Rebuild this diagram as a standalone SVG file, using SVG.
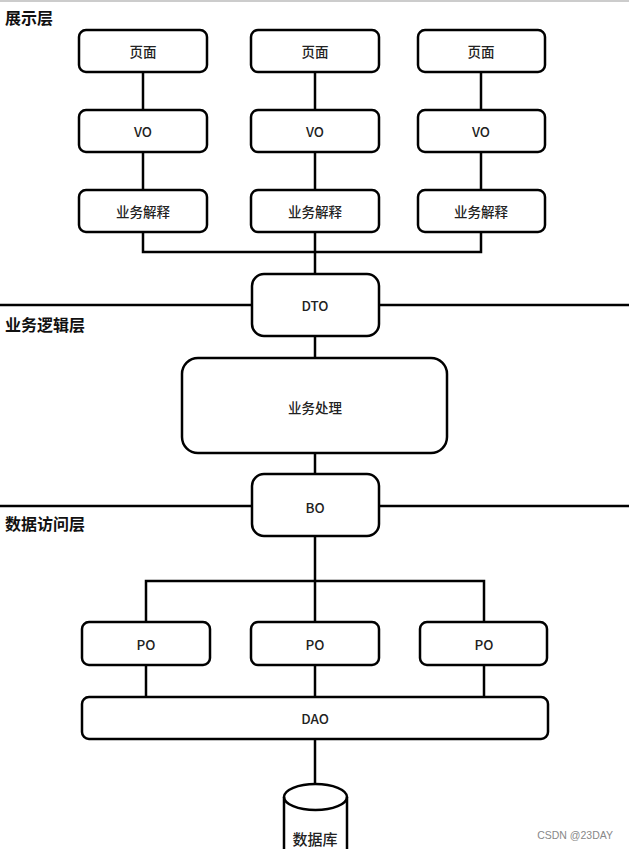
<svg xmlns="http://www.w3.org/2000/svg" width="629" height="849" viewBox="0 0 629 849">
<style>
.box{fill:#fff;stroke:#000;stroke-width:2.5}
.ln{fill:none;stroke:#000;stroke-width:2.5}
.sep{fill:none;stroke:#000;stroke-width:2.5}
.t{font-family:"Noto Sans CJK SC","Liberation Sans",sans-serif;font-size:13.5px;font-weight:500;text-anchor:middle;dominant-baseline:central;fill:#222}
.lay{font-family:"Noto Sans CJK SC","Liberation Sans",sans-serif;font-size:16px;font-weight:bold;fill:#111}
</style>
<rect width="629" height="849" fill="#fff"/>
<line x1="0" y1="1" x2="629" y2="1" stroke="#bbb" stroke-width="1.5"/>
<g id="separators">
<line class="sep" x1="0" y1="305" x2="629" y2="305"/>
<line class="sep" x1="0" y1="506" x2="629" y2="506"/>
</g>
<g id="layer-labels">
<text class="lay" x="5" y="24">展示层</text>
<text class="lay" x="5" y="331">业务逻辑层</text>
<text class="lay" x="5" y="530">数据访问层</text>
</g>
<g id="connectors">
<line class="ln" x1="143" y1="72" x2="143" y2="110"/>
<line class="ln" x1="315" y1="72" x2="315" y2="110"/>
<line class="ln" x1="481" y1="72" x2="481" y2="110"/>
<line class="ln" x1="143" y1="152" x2="143" y2="190"/>
<line class="ln" x1="315" y1="152" x2="315" y2="190"/>
<line class="ln" x1="481" y1="152" x2="481" y2="190"/>
<polyline class="ln" points="143,232 143,252 481,252 481,232"/>
<line class="ln" x1="315" y1="232" x2="315" y2="274"/>
<line class="ln" x1="315" y1="336" x2="315" y2="358"/>
<line class="ln" x1="315" y1="453" x2="315" y2="474"/>
<line class="ln" x1="315" y1="536" x2="315" y2="622"/>
<polyline class="ln" points="146,622 146,581 484,581 484,622"/>
<line class="ln" x1="146" y1="665" x2="146" y2="697"/>
<line class="ln" x1="315" y1="665" x2="315" y2="697"/>
<line class="ln" x1="484" y1="665" x2="484" y2="697"/>
<line class="ln" x1="315" y1="739" x2="315" y2="784"/>
</g>
<g id="page1"><rect class="box" x="79" y="30" width="128" height="42" rx="7"/><text class="t" x="143" y="51">页面</text></g>
<g id="page2"><rect class="box" x="251" y="30" width="128" height="42" rx="7"/><text class="t" x="315" y="51">页面</text></g>
<g id="page3"><rect class="box" x="418" y="30" width="127" height="42" rx="7"/><text class="t" x="481" y="51">页面</text></g>
<g id="vo1"><rect class="box" x="79" y="110" width="128" height="42" rx="7"/><text class="t" x="143" y="131">VO</text></g>
<g id="vo2"><rect class="box" x="251" y="110" width="128" height="42" rx="7"/><text class="t" x="315" y="131">VO</text></g>
<g id="vo3"><rect class="box" x="418" y="110" width="127" height="42" rx="7"/><text class="t" x="481" y="131">VO</text></g>
<g id="biz1"><rect class="box" x="79" y="190" width="128" height="42" rx="7"/><text class="t" x="143" y="211">业务解释</text></g>
<g id="biz2"><rect class="box" x="251" y="190" width="128" height="42" rx="7"/><text class="t" x="315" y="211">业务解释</text></g>
<g id="biz3"><rect class="box" x="418" y="190" width="127" height="42" rx="7"/><text class="t" x="481" y="211">业务解释</text></g>
<g id="dto"><rect class="box" x="252" y="274" width="127" height="62" rx="12"/><text class="t" x="315" y="305">DTO</text></g>
<g id="process"><rect class="box" x="182" y="358" width="265" height="95" rx="16"/><text class="t" x="315" y="407">业务处理</text></g>
<g id="bo"><rect class="box" x="252" y="474" width="127" height="62" rx="12"/><text class="t" x="315" y="507">BO</text></g>
<g id="po1"><rect class="box" x="82" y="622" width="128" height="43" rx="7"/><text class="t" x="146" y="644">PO</text></g>
<g id="po2"><rect class="box" x="251" y="622" width="128" height="43" rx="7"/><text class="t" x="315" y="644">PO</text></g>
<g id="po3"><rect class="box" x="420" y="622" width="127" height="43" rx="7"/><text class="t" x="484" y="644">PO</text></g>
<g id="dao"><rect class="box" x="82" y="697" width="466" height="42" rx="7"/><text class="t" x="315" y="718">DAO</text></g>
<g id="db">
<path class="box" d="M284,797 L284,852 L347,852 L347,797 A31.5,13 0 0 0 284,797 Z"/>
<path class="ln" d="M284,797 A31.5,13 0 0 0 347,797"/>
<text class="t" x="315" y="838" style="font-size:15px">数据库</text>
</g>
<text x="613" y="839" text-anchor="end" style="font-family:'Liberation Sans',sans-serif;font-size:10.5px;fill:#888">CSDN @23DAY</text>
</svg>
